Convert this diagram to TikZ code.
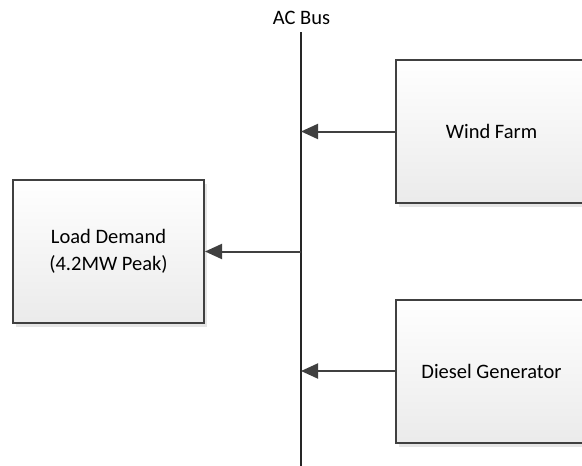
\documentclass[tikz,border=0pt]{standalone}
\usepackage{fontspec}
\setmainfont{Carlito}
\usetikzlibrary{arrows.meta,shadows}
\definecolor{edge}{HTML}{404040}
\tikzset{
  blk/.style={draw=edge, line width=2pt, top color=white, bottom color=black!8,
    minimum width=191pt, minimum height=143pt, align=center, inner sep=0pt,
    font=\fontsize{20.5}{27}\selectfont,
    drop shadow={shadow xshift=3pt, shadow yshift=-4pt, opacity=0.1, fill=black}},
  conn/.style={draw=edge, line width=2pt, -{Triangle[length=17pt,width=15pt]}},
  bus/.style={draw=black!85, line width=2.5pt}
}
\begin{document}
\begin{tikzpicture}[x=1pt,y=-1pt]
\useasboundingbox (0,0) rectangle (582,466);
\coordinate (bt) at (301,32);
\coordinate (bb) at (301,470);
\node[font=\fontsize{20.5}{24}\selectfont] (lab) at (301.5,18) {AC Bus};
\draw[bus] (bt) -- (bb);
\node[blk] (wind) at (491.5,131.5) {Wind Farm};
\node[blk] (diesel) at (491.5,371) {Diesel Generator};
\node[blk] (load) at (108.5,251.5) {Load Demand\\(4.2MW Peak)};
\draw[conn] (wind.west) -- (bt |- wind.west);
\draw[conn] (diesel.west) -- (bt |- diesel.west);
\draw[conn] (bt |- load.east) -- (load.east);
\end{tikzpicture}
\end{document}
